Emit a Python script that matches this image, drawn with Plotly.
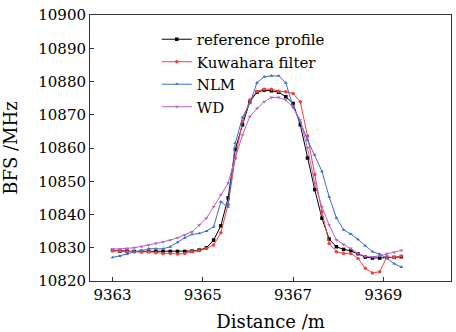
import plotly.graph_objects as go

distance = [round(9363 + 0.16 * i, 2) for i in range(41)]

reference_profile = [
    10829.2, 10829.0, 10829.0, 10828.9, 10828.9, 10828.9, 10828.9, 10828.9, 10828.9, 10828.9,
    10828.9, 10829.0, 10829.3, 10830.0, 10832.3, 10836.6, 10845.0, 10859.6, 10867.0, 10873.9,
    10876.8, 10877.4, 10877.2, 10876.8, 10875.4, 10873.4, 10867.0, 10857.0, 10847.5, 10838.9,
    10832.6, 10830.3, 10829.5, 10829.1, 10828.2, 10827.2, 10826.9, 10826.9, 10827.1, 10827.1,
    10827.3]

kuwahara = [
    10829.1, 10829.0, 10828.8, 10828.8, 10828.7, 10828.8, 10828.5, 10828.3, 10828.3, 10828.1,
    10828.3, 10828.9, 10829.1, 10829.8, 10830.8, 10834.5, 10843.0, 10857.0, 10868.0, 10874.4,
    10877.1, 10877.7, 10877.7, 10877.1, 10876.9, 10876.4, 10873.9, 10863.6, 10852.0, 10840.8,
    10831.3, 10828.8, 10828.3, 10828.3, 10826.8, 10823.8, 10822.4, 10822.8, 10827.2, 10827.1,
    10827.5]

nlm = [
    10827.1, 10827.5, 10828.1, 10828.8, 10829.1, 10829.7, 10829.7, 10829.7, 10830.3, 10831.6,
    10833.0, 10834.0, 10834.3, 10835.0, 10836.3, 10843.8, 10842.3, 10861.5, 10869.2, 10873.4,
    10879.6, 10881.4, 10881.7, 10881.7, 10879.6, 10872.4, 10867.9, 10862.4, 10857.9, 10853.0,
    10845.3, 10839.0, 10835.4, 10834.1, 10832.5, 10830.6, 10828.8, 10828.1, 10826.8, 10825.2,
    10824.2]

wd = [
    10829.6, 10829.6, 10829.8, 10830.0, 10830.3, 10830.8, 10831.3, 10831.7, 10832.3, 10833.0,
    10833.8, 10834.8, 10836.8, 10838.9, 10842.3, 10845.9, 10849.4, 10857.0, 10863.9, 10869.4,
    10871.9, 10873.9, 10875.2, 10875.2, 10874.4, 10872.2, 10868.4, 10860.0, 10849.4, 10842.3,
    10836.8, 10832.4, 10831.0, 10829.8, 10828.3, 10827.4, 10827.2, 10827.6, 10828.2, 10828.6,
    10829.2]

series_names = ["reference profile", "Kuwahara filter", "NLM", "WD"]
x_ticks = [9363, 9365, 9367, 9369]
y_ticks = [10820, 10830, 10840, 10850, 10860, 10870, 10880, 10890, 10900]

styles = [
    ("black", "square"),
    ("#f53f3f", "circle"),
    ("#3c6ccc", "triangle-up"),
    ("#b462c8", "triangle-down"),
]

fig = go.Figure()
for name, ys, (col, sym) in zip(series_names, [reference_profile, kuwahara, nlm, wd], styles):
    fig.add_trace(go.Scatter(
        x=distance, y=ys, name=name, mode="lines+markers",
        line=dict(color=col, width=1),
        marker=dict(color=col, size=3.5, symbol=sym),
    ))

ff = "DejaVu Serif"
fig.update_layout(
    width=456, height=332,
    margin=dict(l=90, r=5, t=15, b=51, autoexpand=False),
    paper_bgcolor="white", plot_bgcolor="white",
    font=dict(family=ff, size=15, color="black"),
    showlegend=True,
    legend=dict(
        x=0.185, y=0.97, xanchor="left", yanchor="top",
        bgcolor="rgba(0,0,0,0)", font=dict(family=ff, size=15, color="black"),
        tracegroupgap=0, itemwidth=30,
    ),
)
fig.update_xaxes(
    range=[9362.5, 9370.5], tickvals=x_ticks, ticktext=[str(t) for t in x_ticks],
    showline=True, linecolor="#333", linewidth=1, mirror=True, automargin=False,
    ticks="inside", ticklen=4, tickcolor="#333", showgrid=False, zeroline=False,
    title=dict(text="Distance /m", font=dict(family=ff, size=18, color="black")),
    tickfont=dict(family=ff, size=15, color="black"),
)
fig.update_yaxes(
    range=[10820, 10900], tickvals=y_ticks, ticktext=[str(t) for t in y_ticks],
    showline=True, linecolor="#333", linewidth=1, mirror=True, automargin=False,
    ticks="inside", ticklen=4, tickcolor="#333", showgrid=False, zeroline=False,
    title=dict(text="BFS /MHz", font=dict(family=ff, size=18, color="black")),
    tickfont=dict(family=ff, size=15, color="black"),
)

fig.write_html(
    "out.html",
    config={"displayModeBar": False},
    post_script="document.body.style.margin='0';document.body.style.overflow='hidden';",
)
